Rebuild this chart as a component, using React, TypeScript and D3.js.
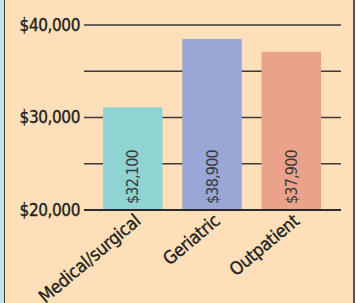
import React, { useEffect, useRef } from 'react';
import * as d3 from 'd3';

// bar heights as drawn, and the labels printed on them
const categories = ['Medical/surgical', 'Geriatric', 'Outpatient'];
const values = [31100, 38500, 37100];
const valueLabels = ['$32,100', '$38,900', '$37,900'];
const tickValues = [20000, 25000, 30000, 35000, 40000];
const tickLabels: Record<number, string> = { 20000: '$20,000', 30000: '$30,000', 40000: '$40,000' };
const barColors = ['#8fd3d3', '#99a6d6', '#eaa38a'];

const W = 357;
const H = 303;
const FONT = '"DejaVu Sans Condensed", "Liberation Sans Narrow", sans-serif';

export default function App() {
  const svgRef = useRef<SVGSVGElement>(null);

  useEffect(() => {
    if (!svgRef.current) return;
    const svg = d3.select(svgRef.current);
    svg.selectAll('*').remove();

    // panel background + frame
    svg.append('rect').attr('x', 0).attr('y', 0).attr('width', W).attr('height', H).attr('fill', '#ffffff');
    svg.append('rect').attr('x', 0).attr('y', 0).attr('width', 5).attr('height', H).attr('fill', '#c4e5e8');
    svg.append('rect').attr('x', 5).attr('y', 0).attr('width', 348).attr('height', H).attr('fill', '#fddfb9');
    svg.append('line').attr('x1', 4.5).attr('x2', 4.5).attr('y1', 0).attr('y2', H)
      .attr('stroke', '#3a3a3a').attr('stroke-width', 1);
    svg.append('line').attr('x1', 354).attr('x2', 354).attr('y1', 0).attr('y2', H)
      .attr('stroke', '#555555').attr('stroke-width', 2);

    const y = d3.scaleLinear().domain([20000, 40000]).range([210, 25]);
    const x = d3.scaleBand<string>()
      .domain(categories)
      .range([93, 331])
      .paddingInner(0.25)
      .paddingOuter(0.125);

    // grid lines
    svg.append('g')
      .selectAll('line')
      .data(tickValues)
      .join('line')
      .attr('x1', 84)
      .attr('x2', 341)
      .attr('y1', d => y(d))
      .attr('y2', d => y(d))
      .attr('stroke', '#3a3a3a')
      .attr('stroke-width', d => (d === 20000 ? 2 : 1.5));

    // y tick labels
    svg.append('g')
      .selectAll('text')
      .data(tickValues.filter(d => tickLabels[d]))
      .join('text')
      .attr('x', 80)
      .attr('y', d => y(d))
      .attr('dy', '0.35em')
      .attr('text-anchor', 'end')
      .attr('font-family', FONT)
      .attr('font-size', 17)
      .attr('letter-spacing', -0.4)
      .attr('fill', '#231f20')
      .attr('stroke', '#231f20')
      .attr('stroke-width', 0.35)
      .text(d => tickLabels[d]);

    // bars
    svg.append('g')
      .selectAll('rect')
      .data(values)
      .join('rect')
      .attr('x', (_, i) => x(categories[i])!)
      .attr('y', d => y(d))
      .attr('width', x.bandwidth())
      .attr('height', d => y(20000) - y(d))
      .attr('fill', (_, i) => barColors[i]);

    // baseline on top of bars
    svg.append('line')
      .attr('x1', 84).attr('x2', 341)
      .attr('y1', y(20000)).attr('y2', y(20000))
      .attr('stroke', '#2a2a2a').attr('stroke-width', 2);

    // value labels, rotated inside bars
    svg.append('g')
      .selectAll('text')
      .data(valueLabels)
      .join('text')
      .attr('transform', (_, i) => {
        const cx = x(categories[i])! + x.bandwidth() / 2;
        return `translate(${cx},${y(20000) - 6}) rotate(-90)`;
      })
      .attr('dy', '0.35em')
      .attr('text-anchor', 'start')
      .attr('font-family', FONT)
      .attr('font-size', 16)
      .attr('letter-spacing', -0.8)
      .attr('fill', '#3a3a3a')
      .text(d => d);

    // category labels
    svg.append('g')
      .selectAll('text')
      .data(categories)
      .join('text')
      .attr('transform', d => {
        const cx = x(d)! + x.bandwidth() / 2;
        return `translate(${cx + 5},${y(20000) + 8}) rotate(-40)`;
      })
      .attr('dy', '0.35em')
      .attr('text-anchor', 'end')
      .attr('font-family', FONT)
      .attr('font-size', 18)
      .attr('letter-spacing', -0.3)
      .attr('fill', '#231f20')
      .attr('stroke', '#231f20')
      .attr('stroke-width', 0.35)
      .text(d => d);
  }, []);

  return (
    <svg
      ref={svgRef}
      width={W}
      height={H}
      style={{ position: 'absolute', left: 0, top: 0, display: 'block' }}
    />
  );
}
